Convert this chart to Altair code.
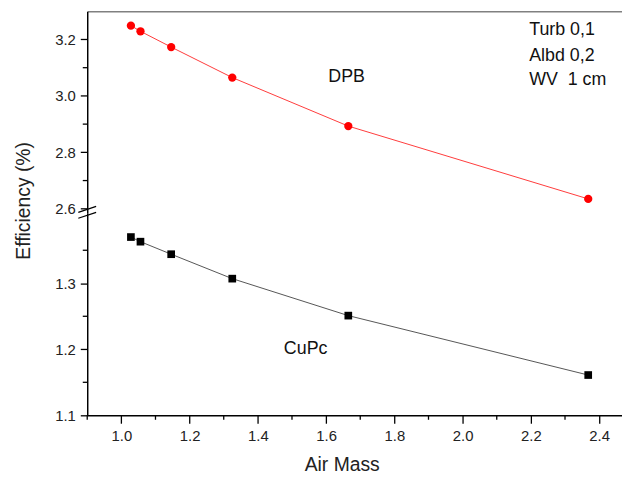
import altair as alt
import pandas as pd

air_mass = [1.028, 1.056, 1.146, 1.325, 1.665, 2.368]
dpb = [3.249, 3.229, 3.173, 3.065, 2.893, 2.635]
cupc = [1.370, 1.363, 1.344, 1.307, 1.251, 1.161]

x_major = [1.0, 1.2, 1.4, 1.6, 1.8, 2.0, 2.2, 2.4]
x_minor = [0.9, 1.1, 1.3, 1.5, 1.7, 1.9, 2.1, 2.3]
upper_major = [2.6, 2.8, 3.0, 3.2]
upper_minor = [2.7, 2.9, 3.1]
lower_major = [1.1, 1.2, 1.3]
lower_minor = [1.15, 1.25, 1.35]

note_lines = ["Turb 0,1", "Albd 0,2", "WV\u00a0 1 cm"]
note_y = [3.233, 3.141, 3.057]
note_x = 2.195

FONT = "Liberation Sans"

df_dpb = pd.DataFrame({"air": air_mass, "eff": dpb})
df_cupc = pd.DataFrame({"air": air_mass, "eff": cupc})
df_notes = pd.DataFrame({"air": [note_x] * 3, "eff": note_y, "txt": note_lines})
df_dpb_lbl = pd.DataFrame({"air": [1.660], "eff": [3.068], "txt": ["DPB"]})
df_cupc_lbl = pd.DataFrame({"air": [1.540], "eff": [1.201], "txt": ["CuPc"]})

x_scale = alt.Scale(domain=[0.9, 2.467], nice=False, zero=False)
y_up = alt.Scale(domain=[2.584, 3.3], nice=False, zero=False)
y_lo = alt.Scale(domain=[1.1, 1.406], nice=False, zero=False)

x_top_axis = alt.Axis(orient="top", labels=False, ticks=False, title=None,
                      domainColor="#808080", domainWidth=1.5, grid=False)
x_bot_axis = alt.Axis(values=x_major, format=".1f", title="Air Mass", grid=False,
                      tickSize=8, labelOverlap=False, labelFlush=False,
                      titleX=257, titleY=50, titleBaseline="middle", titleAlign="center")
y_up_axis = alt.Axis(values=upper_major, format=".1f", title="Efficiency (%)", grid=False,
                     tickSize=7, labelOverlap=False, labelFlush=False,
                     titleX=-64, titleY=191, titleAngle=270,
                     titleBaseline="middle", titleAlign="center")
y_lo_axis = alt.Axis(values=lower_major, format=".1f", title=None, grid=False,
                     tickSize=7, labelOverlap=False, labelFlush=False)

W, H = 540, 204

# Upper panel (DPB)
up_base = alt.Chart(df_dpb).encode(
    x=alt.X("air:Q", scale=x_scale, axis=x_top_axis),
    y=alt.Y("eff:Q", scale=y_up, axis=y_up_axis),
)
up_line = up_base.mark_line(color="#ff3b3b", strokeWidth=1)
up_pts = up_base.mark_point(shape="circle", filled=True, color="#ff0000", size=70, opacity=1)
up_lbl = alt.Chart(df_dpb_lbl).mark_text(font=FONT, fontSize=18, color="#111", align="center",
                                         baseline="middle").encode(
    x=alt.X("air:Q", scale=x_scale), y=alt.Y("eff:Q", scale=y_up), text="txt:N")
up_notes = alt.Chart(df_notes).mark_text(font=FONT, fontSize=18, color="#111", align="left",
                                         baseline="middle").encode(
    x=alt.X("air:Q", scale=x_scale), y=alt.Y("eff:Q", scale=y_up), text="txt:N")
up_minor = alt.Chart(pd.DataFrame({"eff": upper_minor})).mark_rule(
    color="black", strokeWidth=1.3).encode(
    y=alt.Y("eff:Q", scale=y_up), x=alt.value(0), x2=alt.value(-4.5))
upper = alt.layer(up_line, up_pts, up_lbl, up_notes, up_minor).properties(width=W, height=H)

# Lower panel (CuPc)
lo_base = alt.Chart(df_cupc).encode(
    x=alt.X("air:Q", scale=x_scale, axis=x_bot_axis),
    y=alt.Y("eff:Q", scale=y_lo, axis=y_lo_axis),
)
lo_line = lo_base.mark_line(color="#555555", strokeWidth=1)
lo_pts = lo_base.mark_point(shape="square", filled=True, color="#000000", size=60, opacity=1)
lo_lbl = alt.Chart(df_cupc_lbl).mark_text(font=FONT, fontSize=18, color="#111", align="center",
                                          baseline="middle").encode(
    x=alt.X("air:Q", scale=x_scale), y=alt.Y("eff:Q", scale=y_lo), text="txt:N")
lo_minor_y = alt.Chart(pd.DataFrame({"eff": lower_minor})).mark_rule(
    color="black", strokeWidth=1.3).encode(
    y=alt.Y("eff:Q", scale=y_lo), x=alt.value(0), x2=alt.value(-4.5))
lo_minor_x = alt.Chart(pd.DataFrame({"air": x_minor})).mark_rule(
    color="black", strokeWidth=1.3).encode(
    x=alt.X("air:Q", scale=x_scale), y=alt.value(H), y2=alt.value(H + 4.5))

one = pd.DataFrame({"k": [0]})
brk1 = alt.Chart(one).mark_rule(color="black", strokeWidth=1.3).encode(
    x=alt.value(-9), x2=alt.value(9), y=alt.value(-1), y2=alt.value(-7))
brk2 = alt.Chart(one).mark_rule(color="black", strokeWidth=1.3).encode(
    x=alt.value(-9), x2=alt.value(9), y=alt.value(5), y2=alt.value(-1))
lower = alt.layer(lo_line, lo_pts, lo_lbl, lo_minor_y, lo_minor_x, brk1, brk2).properties(
    width=W, height=H)

chart = alt.vconcat(upper, lower, spacing=0, bounds="flush").properties(
    padding={"left": 6, "top": 1, "right": 0, "bottom": 0}
).configure_view(stroke=None).configure_axis(
    labelFont=FONT, labelFontSize=15, labelColor="#222", labelPadding=5,
    titleFont=FONT, titleFontSize=19.5, titleFontWeight="normal", titleColor="#222",
    domainColor="black", domainWidth=1.5, tickColor="black", tickWidth=1.3,
)

chart.save("out.html", embed_options={"renderer": "svg", "actions": False})
